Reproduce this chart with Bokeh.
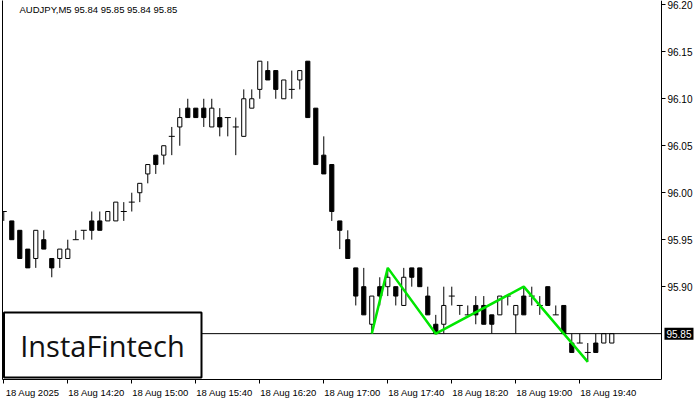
from bokeh.plotting import figure
from bokeh.models import (Range1d, FixedTicker, LinearAxis, CustomJSTickFormatter,
                          PrintfTickFormatter, Label, BoxAnnotation)
from bokeh.embed import file_html
from bokeh.resources import INLINE

symbol = "AUDJPY,M5"

opens = [95.98, 95.97, 95.96, 95.94, 95.93, 95.95, 95.93, 95.93, 95.93, 95.95,
         95.96, 95.97, 95.97, 95.97, 95.97, 95.98, 95.99, 96.00, 96.02, 96.04,
         96.04, 96.06, 96.07, 96.09, 96.09, 96.09, 96.07, 96.08, 96.08, 96.07,
         96.06, 96.09, 96.11, 96.13, 96.13, 96.10, 96.11, 96.12, 96.14, 96.09,
         96.04, 96.03, 95.97, 95.95, 95.92, 95.90, 95.86, 95.90, 95.90, 95.90,
         95.88, 95.92, 95.92, 95.89, 95.86, 95.86, 95.89, 95.88, 95.87, 95.88,
         95.88, 95.87, 95.87, 95.89, 95.87, 95.89, 95.89, 95.88, 95.90, 95.87,
         95.88, 95.84, 95.84, 95.83, 95.84, 95.84, 95.84]
highs = [95.98, 95.97, 95.96, 95.94, 95.96, 95.96, 95.93, 95.94, 95.95, 95.96,
         95.96, 95.98, 95.98, 95.98, 95.99, 95.99, 96.00, 96.01, 96.03, 96.04,
         96.05, 96.07, 96.09, 96.10, 96.09, 96.10, 96.10, 96.09, 96.08, 96.08,
         96.11, 96.11, 96.14, 96.14, 96.13, 96.12, 96.13, 96.13, 96.14, 96.09,
         96.06, 96.03, 95.97, 95.96, 95.92, 95.92, 95.89, 95.91, 95.92, 95.90,
         95.92, 95.92, 95.92, 95.90, 95.87, 95.90, 95.90, 95.88, 95.88, 95.89,
         95.89, 95.87, 95.89, 95.89, 95.88, 95.90, 95.90, 95.89, 95.90, 95.88,
         95.88, 95.85, 95.85, 95.84, 95.85, 95.85, 95.85]
lows = [95.97, 95.95, 95.93, 95.92, 95.92, 95.94, 95.91, 95.92, 95.93, 95.95,
        95.95, 95.95, 95.96, 95.97, 95.97, 95.97, 95.98, 95.99, 96.01, 96.02,
        96.03, 96.04, 96.05, 96.08, 96.08, 96.07, 96.07, 96.06, 96.06, 96.04,
        96.06, 96.09, 96.10, 96.12, 96.10, 96.10, 96.10, 96.11, 96.08, 96.03,
        96.02, 95.97, 95.94, 95.93, 95.88, 95.87, 95.85, 95.88, 95.89, 95.88,
        95.88, 95.90, 95.90, 95.87, 95.85, 95.85, 95.88, 95.87, 95.87, 95.86,
        95.86, 95.85, 95.87, 95.88, 95.85, 95.87, 95.88, 95.87, 95.88, 95.87,
        95.85, 95.83, 95.84, 95.82, 95.83, 95.84, 95.84]
closes = [95.98, 95.95, 95.93, 95.92, 95.96, 95.94, 95.92, 95.94, 95.94, 95.95,
          95.96, 95.96, 95.96, 95.98, 95.99, 95.98, 95.99, 96.01, 96.03, 96.03,
          96.05, 96.06, 96.08, 96.08, 96.08, 96.08, 96.09, 96.07, 96.08, 96.07,
          96.10, 96.10, 96.14, 96.12, 96.11, 96.12, 96.11, 96.13, 96.08, 96.03,
          96.02, 95.98, 95.96, 95.93, 95.89, 95.87, 95.89, 95.89, 95.91, 95.89,
          95.91, 95.91, 95.90, 95.87, 95.85, 95.88, 95.89, 95.88, 95.87, 95.87,
          95.86, 95.86, 95.89, 95.89, 95.88, 95.87, 95.89, 95.88, 95.88, 95.87,
          95.85, 95.83, 95.84, 95.83, 95.83, 95.85, 95.85]

# pattern (green zig-zag): bar index and price of each vertex
pattern_bars = [46, 48, 54, 65, 73]
pattern_prices = [95.85, 95.92, 95.85, 95.90, 95.82]

current_price = 95.85
price_ticks = [95.90, 95.95, 96.00, 96.05, 96.10, 96.15, 96.20]
time_tick_bars = [0, 8, 16, 24, 32, 40, 48, 56, 64, 72]
time_tick_labels = ["18 Aug 2025", "18 Aug 14:20", "18 Aug 15:00", "18 Aug 15:40",
                    "18 Aug 16:20", "18 Aug 17:00", "18 Aug 17:40", "18 Aug 18:20",
                    "18 Aug 19:00", "18 Aug 19:40"]

# view window (bar index / price units)
X0, X1 = -0.16, 87.09
X_AXIS = 82.21          # where the price scale sits
Y0, Y1 = 95.8012, 96.2046
FONT = "Liberation Sans"

p = figure(width=700, height=400, x_range=Range1d(X0, X1), y_range=Range1d(Y0, Y1),
           output_backend="svg", toolbar_location=None, y_axis_location="right",
           min_border_left=2, min_border_right=0, min_border_top=0, min_border_bottom=21)
p.outline_line_color = None
p.xgrid.grid_line_color = None
p.ygrid.grid_line_color = None
p.background_fill_color = "white"
p.border_fill_color = "white"

n = len(opens)
idx = list(range(n))

# wicks
p.segment(x0=idx, y0=lows, x1=idx, y1=highs, line_color="black", line_width=1)

bull = [i for i in idx if closes[i] > opens[i]]
bear = [i for i in idx if closes[i] < opens[i]]
doji = [i for i in idx if closes[i] == opens[i]]

p.vbar(x=bull, bottom=[opens[i] for i in bull], top=[closes[i] for i in bull],
       width=0.52, fill_color="white", line_color="black", line_width=1)
p.vbar(x=bear, bottom=[closes[i] for i in bear], top=[opens[i] for i in bear],
       width=0.52, fill_color="black", line_color="black", line_width=1)
p.scatter(x=doji, y=[opens[i] for i in doji], marker="dash", size=6,
          line_color="black", line_width=1)

# current price line (up to the price scale)
p.segment(x0=[X0], y0=[current_price], x1=[X_AXIS], y1=[current_price],
          line_color="black", line_width=1)

# pattern
p.line(x=pattern_bars, y=pattern_prices, line_color="#00e600", line_width=2.5)

# price axis, drawn at the right edge of the chart box
yax = p.yaxis[0]
yax.fixed_location = X_AXIS
yax.ticker = FixedTicker(ticks=price_ticks, minor_ticks=[])
yax.formatter = PrintfTickFormatter(format="%.2f")
yax.major_tick_out = 4
yax.major_tick_in = 0
yax.minor_tick_out = 0
yax.minor_tick_in = 0
yax.major_label_standoff = 2
yax.major_label_text_font = FONT
yax.major_label_text_font_size = "10px"
yax.major_label_text_color = "black"
yax.axis_line_color = "black"
yax.major_tick_line_color = "black"

label_shift = 3.6
label_pos = [b + label_shift for b in time_tick_bars]
xax = p.xaxis[0]
xax.bounds = (X0, X_AXIS)
xax.ticker = FixedTicker(ticks=label_pos, minor_ticks=time_tick_bars)
xax.formatter = CustomJSTickFormatter(args=dict(label_ticks=label_pos, label_texts=time_tick_labels), code="""
let k = -1;
for (let j = 0; j < label_ticks.length; j++) {
  if (Math.abs(label_ticks[j] - tick) < 1e-6) { k = j; }
}
return k >= 0 ? label_texts[k] : "";
""")
xax.major_tick_out = 0
xax.major_tick_in = 0
xax.minor_tick_out = 4
xax.minor_tick_in = 0
xax.minor_tick_line_color = "black"
xax.major_label_standoff = 3
xax.major_label_text_font = FONT
xax.major_label_text_font_size = "9.5px"
xax.major_label_text_color = "black"
xax.axis_line_color = "black"

left = LinearAxis(ticker=FixedTicker(ticks=[], minor_ticks=[]), major_tick_out=0, major_tick_in=0,
                  minor_tick_out=0, minor_tick_in=0, major_label_standoff=0,
                  axis_line_color="black", major_label_text_font_size="0px")
p.add_layout(left, "left")

# header
header = f"{symbol}  {opens[-1]:.2f} {highs[-1]:.2f} {lows[-1]:.2f} {closes[-1]:.2f}"
p.add_layout(Label(x=X0, y=Y1, x_offset=17, y_offset=-3, text=header, text_baseline="top",
                   text_align="left", text_font=FONT, text_font_size="9.5px", text_color="black"))

# current price tag
p.add_layout(Label(x=X_AXIS, y=current_price, x_offset=3, text=f"{current_price:.2f}",
                   text_baseline="middle", text_align="left", text_font=FONT,
                   text_font_size="10px", text_color="white",
                   background_fill_color="black", padding=2))

# logo
p.add_layout(BoxAnnotation(left=1.5, right=199, bottom=2, top=67,
                           left_units="screen", right_units="screen",
                           bottom_units="screen", top_units="screen",
                           fill_color="white", fill_alpha=1.0,
                           line_color="black", line_width=2, line_alpha=1.0))
p.add_layout(Label(x=100, y=34, x_units="screen", y_units="screen", text="InstaFintech",
                   text_align="center", text_baseline="middle", text_font="Open Sans",
                   text_font_size="29px", text_color="#111111"))

open("out.html", "w").write(file_html(p, INLINE))
